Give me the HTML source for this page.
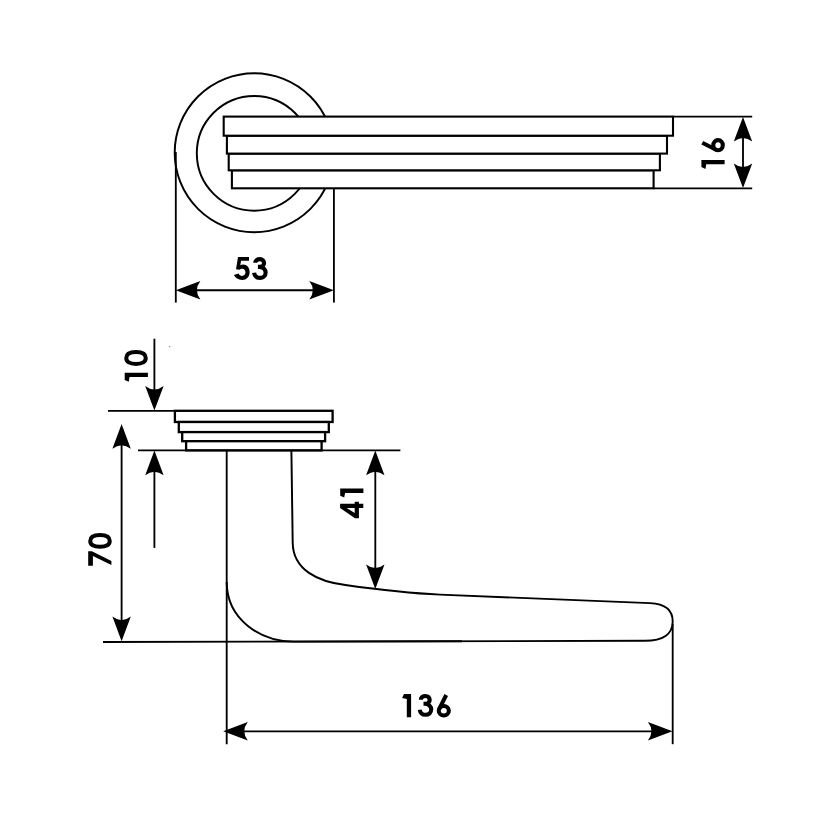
<!DOCTYPE html>
<html><head><meta charset="utf-8"><title>Door handle drawing</title>
<style>html,body{margin:0;padding:0;background:#fff;}body{width:826px;height:826px;overflow:hidden;font-family:"Liberation Sans",sans-serif;}svg{display:block;}</style>
</head><body>
<svg width="826" height="826" viewBox="0 0 826 826">
<rect width="826" height="826" fill="#fff"/>
<circle cx="254.2" cy="152.7" r="79.5" fill="none" stroke="#000" stroke-width="1.95"/>
<circle cx="254.2" cy="153.3" r="57.4" fill="none" stroke="#000" stroke-width="1.95"/>
<rect x="231.9" y="170.3" width="421.7" height="18.0" fill="#fff" stroke="#000" stroke-width="2.1"/>
<rect x="228.7" y="153.6" width="431.2" height="16.7" fill="#fff" stroke="#000" stroke-width="2.1"/>
<rect x="226.9" y="135.7" width="440.1" height="17.9" fill="#fff" stroke="#000" stroke-width="2.1"/>
<rect x="223.7" y="116.6" width="449.3" height="19.1" fill="#fff" stroke="#000" stroke-width="2.1"/>
<line x1="673.0" y1="116.6" x2="752.2" y2="116.6" stroke="#000" stroke-width="1.85"/>
<line x1="653.6" y1="188.3" x2="752.2" y2="188.3" stroke="#000" stroke-width="1.85"/>
<line x1="743" y1="125" x2="743" y2="180" stroke="#000" stroke-width="1.85"/>
<path transform="translate(743,116.9) rotate(270)" d="M0,0 L-24.6,-9.2 Q-17.5,0 -24.6,9.2 Z" fill="#000"/>
<path transform="translate(743,188.0) rotate(90)" d="M0,0 L-24.6,-9.2 Q-17.5,0 -24.6,9.2 Z" fill="#000"/>
<line x1="175.8" y1="152" x2="175.8" y2="302.6" stroke="#000" stroke-width="1.85"/>
<line x1="333.9" y1="188.3" x2="333.9" y2="302.6" stroke="#000" stroke-width="1.85"/>
<line x1="190" y1="290.2" x2="320" y2="290.2" stroke="#000" stroke-width="1.85"/>
<path transform="translate(175.8,290.2) rotate(180)" d="M0,0 L-24.6,-9.2 Q-17.5,0 -24.6,9.2 Z" fill="#000"/>
<path transform="translate(333.9,290.2) rotate(0)" d="M0,0 L-24.6,-9.2 Q-17.5,0 -24.6,9.2 Z" fill="#000"/>
<rect x="174.9" y="410.8" width="157.7" height="11.2" fill="#fff" stroke="#000" stroke-width="2.3"/>
<rect x="178.8" y="422.0" width="150.0" height="10.1" fill="#fff" stroke="#000" stroke-width="2.3"/>
<rect x="182.2" y="432.1" width="142.9" height="9.1" fill="#fff" stroke="#000" stroke-width="2.3"/>
<rect x="186.1" y="441.2" width="135.5" height="9.2" fill="#fff" stroke="#000" stroke-width="2.3"/>
<line x1="108" y1="410.8" x2="174.9" y2="410.8" stroke="#000" stroke-width="1.85"/>
<line x1="138" y1="450.4" x2="400.4" y2="450.4" stroke="#000" stroke-width="1.85"/>
<line x1="154.4" y1="338.7" x2="154.4" y2="400" stroke="#000" stroke-width="1.85"/>
<path transform="translate(154.4,410.5) rotate(90)" d="M0,0 L-24.6,-9.2 Q-17.5,0 -24.6,9.2 Z" fill="#000"/>
<line x1="154.4" y1="460" x2="154.4" y2="547.9" stroke="#000" stroke-width="1.85"/>
<path transform="translate(154.4,450.6) rotate(270)" d="M0,0 L-24.6,-9.2 Q-17.5,0 -24.6,9.2 Z" fill="#000"/>
<line x1="121.6" y1="435" x2="121.6" y2="630" stroke="#000" stroke-width="1.85"/>
<path transform="translate(121.6,424.1) rotate(270)" d="M0,0 L-24.6,-9.2 Q-17.5,0 -24.6,9.2 Z" fill="#000"/>
<path transform="translate(121.6,641.2) rotate(90)" d="M0,0 L-24.6,-9.2 Q-17.5,0 -24.6,9.2 Z" fill="#000"/>
<line x1="103" y1="642.0" x2="462" y2="641.2" stroke="#000" stroke-width="1.85"/>
<line x1="226.7" y1="450.4" x2="226.7" y2="744.2" stroke="#000" stroke-width="1.85"/>
<path d="M226.7,582 C226.7,619 260,641.6 294,641.6 L645,640.8 C663,640.8 672.7,634 672.7,621.5 C672.7,608 662,603.6 650,603.1 L440,594.6 C410,593.3 368,588.2 345.4,585.0 C318,581.7 293.2,570 292.7,543 L291.4,450.4" fill="none" stroke="#000" stroke-width="1.95"/>
<line x1="375.3" y1="460" x2="375.3" y2="580" stroke="#000" stroke-width="1.85"/>
<path transform="translate(375.3,450.6) rotate(270)" d="M0,0 L-24.6,-9.2 Q-17.5,0 -24.6,9.2 Z" fill="#000"/>
<path transform="translate(375.3,589.0) rotate(90)" d="M0,0 L-24.6,-9.2 Q-17.5,0 -24.6,9.2 Z" fill="#000"/>
<line x1="672.7" y1="624" x2="672.7" y2="744.2" stroke="#000" stroke-width="1.85"/>
<line x1="235" y1="731.3" x2="660" y2="731.3" stroke="#000" stroke-width="1.85"/>
<path transform="translate(223.2,731.3) rotate(180)" d="M0,0 L-24.6,-9.2 Q-17.5,0 -24.6,9.2 Z" fill="#000"/>
<path transform="translate(672.5,731.3) rotate(0)" d="M0,0 L-24.6,-9.2 Q-17.5,0 -24.6,9.2 Z" fill="#000"/>
<g transform="translate(233.9,257.1)"><path d="M4.1,0 L15.1,0 L15.1,3.65 L7.2,3.65 L6.4,8.2 C7.2,7.7 8.2,7.5 9.1,7.5 C13.1,7.5 15.7,10.5 15.7,15.1 C15.7,19.8 12.6,22.8 8.3,22.8 C4.4,22.8 1.4,20.9 0,17.9 L4.6,16.3 C5.3,17.8 6.7,18.8 8.2,18.8 C10.2,18.8 11.6,17.3 11.6,15.2 C11.6,13.1 10.2,11.6 8.3,11.6 C7.1,11.6 6.2,12.1 5.6,12.7 L2.1,12.2 Z" fill="#000"/></g>
<g transform="translate(252.3,257.1)"><path d="M2.9,5.7 C2.9,3.3 5.0,2.0 7.6,2.0 C10.1,2.0 11.8,3.6 11.8,5.9 C11.8,8.3 10.0,9.8 7.2,9.8 L5.6,9.8 M6.6,9.8 C10.9,9.8 13.3,12.3 13.3,15.6 C13.3,18.8 10.9,20.8 7.7,20.8 C4.6,20.8 2.3,18.9 1.8,15.7" fill="none" stroke="#000" stroke-width="4.1"/></g>
<g transform="translate(701.4,169.0) rotate(-90)"><path d="M1.9,0 H9 V23.2 H4.7 V4.9 L0,4.0 Z" fill="#000"/></g>
<g transform="translate(701.3,152.5) rotate(-90)"><ellipse cx="7.3" cy="16.75" rx="5.05" ry="4.75" fill="none" stroke="#000" stroke-width="4.1"/><path d="M9.75,1.0 L2.5,15.3" fill="none" stroke="#000" stroke-width="4.0"/></g>
<g transform="translate(124.7,381.8) rotate(-90)"><path d="M1.9,0 H9 V23.2 H4.7 V4.9 L0,4.0 Z" fill="#000"/></g>
<g transform="translate(124.4,366.0) rotate(-90)"><path d="M8,1.85 C11.89,1.85 13.90,5.16 13.90,11.6 C13.90,18.04 11.89,21.35 8,21.35 C4.11,21.35 2.10,18.04 2.10,11.6 C2.10,5.16 4.11,1.85 8,1.85 Z" fill="none" stroke="#000" stroke-width="4.0"/></g>
<g transform="translate(88.2,565.7) rotate(-90)"><path d="M0,0 H14.5 V3.7 L4.7,23.2 H0.8 L9.7,4.7 H0 Z" fill="#000"/></g>
<g transform="translate(88.4,548.9) rotate(-90)"><path d="M8,1.85 C11.89,1.85 13.90,5.16 13.90,11.6 C13.90,18.04 11.89,21.35 8,21.35 C4.11,21.35 2.10,18.04 2.10,11.6 C2.10,5.16 4.11,1.85 8,1.85 Z" fill="none" stroke="#000" stroke-width="4.0"/></g>
<g transform="translate(340.1,518.2) rotate(-90)"><path d="M10.2,0 H14.4 V14.6 H16.5 V18.8 H14.4 V23.2 H10.2 V18.8 H0 V14.9 Z M10.2,6.6 L5.3,14.6 H10.2 Z" fill="#000" fill-rule="evenodd"/></g>
<g transform="translate(340.2,497.6) rotate(-90)"><path d="M1.9,0 H9 V23.2 H4.7 V4.9 L0,4.0 Z" fill="#000"/></g>
<g transform="translate(402.1,694.0)"><path d="M1.9,0 H9 V23.2 H4.7 V4.9 L0,4.0 Z" fill="#000"/></g>
<g transform="translate(417.9,694.0)"><path d="M2.9,5.7 C2.9,3.3 5.0,2.0 7.6,2.0 C10.1,2.0 11.8,3.6 11.8,5.9 C11.8,8.3 10.0,9.8 7.2,9.8 L5.6,9.8 M6.6,9.8 C10.9,9.8 13.3,12.3 13.3,15.6 C13.3,18.8 10.9,20.8 7.7,20.8 C4.6,20.8 2.3,18.9 1.8,15.7" fill="none" stroke="#000" stroke-width="4.1"/></g>
<g transform="translate(436.5,694.0)"><ellipse cx="7.3" cy="16.75" rx="5.05" ry="4.75" fill="none" stroke="#000" stroke-width="4.1"/><path d="M9.75,1.0 L2.5,15.3" fill="none" stroke="#000" stroke-width="4.0"/></g>
<rect x="169" y="346" width="1.2" height="1.2" fill="#888"/>
</svg>
</body></html>
